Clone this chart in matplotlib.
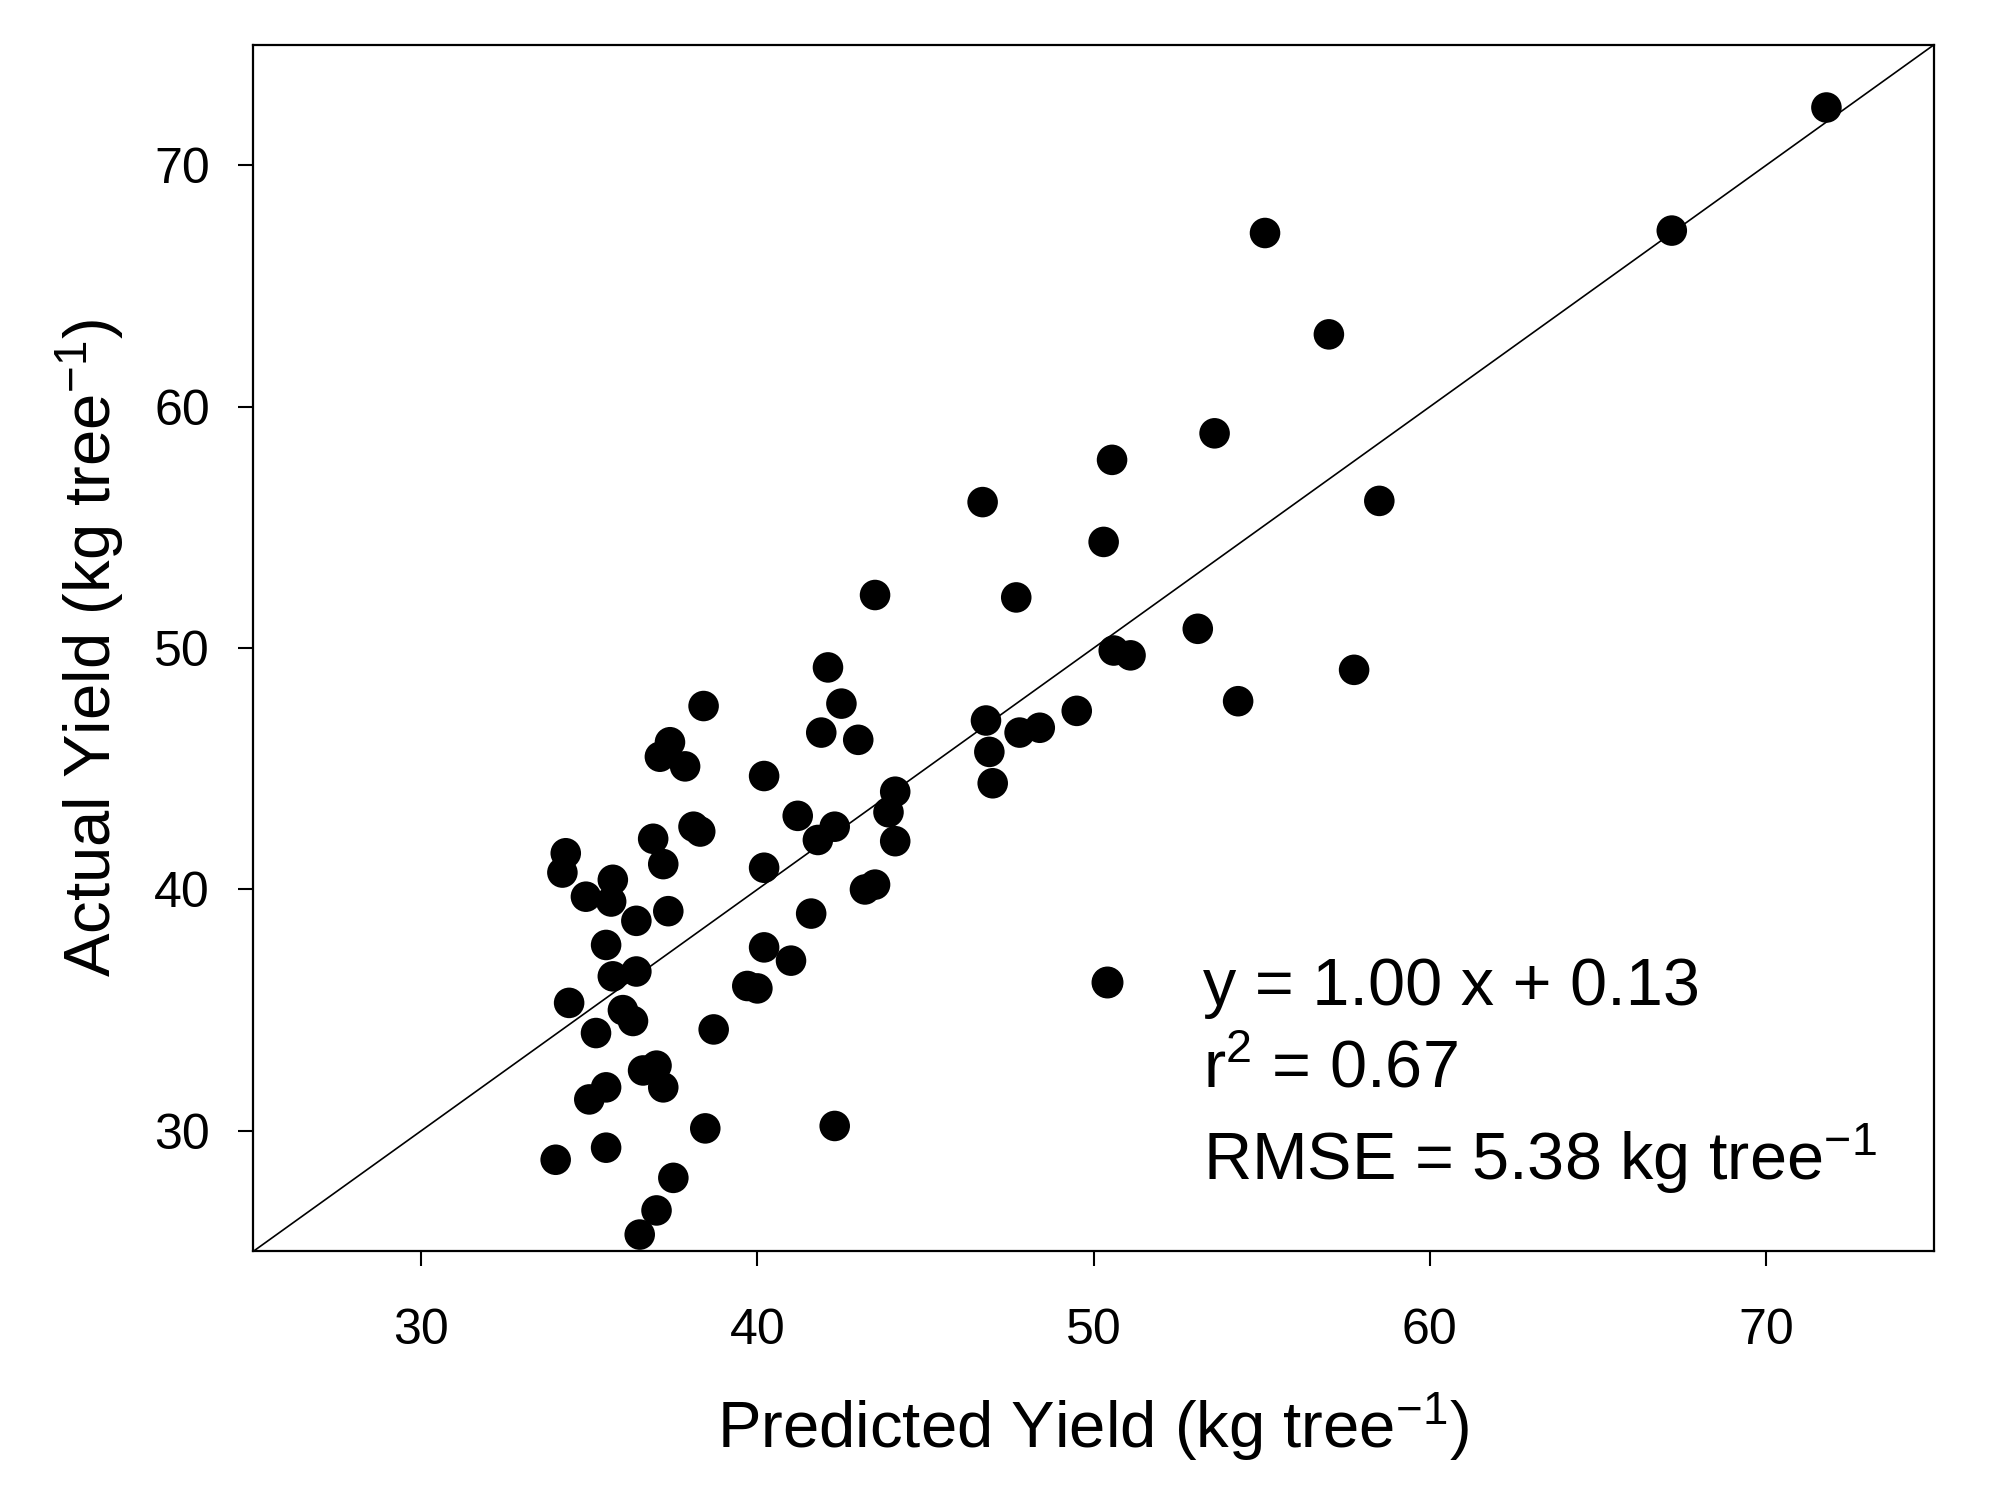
import matplotlib
matplotlib.use("Agg")
import matplotlib.pyplot as plt
from matplotlib.lines import Line2D

plt.rcParams['font.family'] = ['Liberation Sans', 'DejaVu Sans']
plt.rcParams['mathtext.fontset'] = 'custom'
plt.rcParams['mathtext.rm'] = 'Liberation Sans'
plt.rcParams['mathtext.it'] = 'Liberation Sans'
plt.rcParams['mathtext.default'] = 'regular'

predicted = [71.8, 67.2, 55.1, 57.0, 53.6, 50.55, 46.7, 58.5, 50.3, 43.5,
             47.7, 53.1, 50.6, 51.1, 57.75, 42.1, 38.4, 42.5, 54.3, 49.5,
             46.8, 41.9, 43.0, 37.4, 47.8, 48.4, 37.1, 37.85, 46.9, 40.2,
             47.0, 44.1, 41.2, 43.9, 38.1, 38.3, 42.3, 41.8, 44.1, 36.9,
             34.3, 34.2, 40.2, 37.2, 35.7, 34.9, 35.65, 43.2, 43.5, 37.35,
             41.6, 36.4, 35.5, 40.2, 41.0, 36.4, 35.7, 39.7, 40.0, 34.4,
             36.0, 36.3, 38.7, 35.2, 36.6, 37.0, 37.2, 35.5, 35.0, 38.45,
             42.3, 35.5, 34.0, 37.5, 37.0, 36.5]
actual = [72.4, 67.3, 67.2, 63.0, 58.9, 57.8, 56.05, 56.1, 54.4, 52.2,
          52.1, 50.8, 49.9, 49.7, 49.1, 49.2, 47.6, 47.7, 47.8, 47.4,
          47.0, 46.5, 46.2, 46.1, 46.5, 46.7, 45.5, 45.1, 45.7, 44.7,
          44.4, 44.05, 43.05, 43.2, 42.6, 42.4, 42.6, 42.05, 42.0, 42.1,
          41.5, 40.7, 40.9, 41.05, 40.4, 39.7, 39.5, 40.0, 40.2, 39.1,
          39.0, 38.7, 37.7, 37.6, 37.05, 36.6, 36.4, 36.0, 35.9, 35.3,
          35.0, 34.55, 34.2, 34.05, 32.5, 32.7, 31.8, 31.8, 31.3, 30.1,
          30.2, 29.3, 28.8, 28.05, 26.7, 25.7]

ticks = [30, 40, 50, 60, 70]
lims = [25, 75]
legend_lines = ["y = 1.00 x + 0.13", "r$^{2}$ = 0.67",
                "RMSE = 5.38 kg tree$^{-1}$"]

fig = plt.figure(figsize=(19.93, 15.02), dpi=100)
ax = fig.add_axes([0.127, 0.1668, 0.8434, 0.8034])

ax.scatter(predicted, actual, s=22**2, c='black', edgecolors='none', zorder=3)
ax.plot(lims, lims, color='black', lw=1.2, zorder=2)

ax.set_xlim(lims)
ax.set_ylim(lims)
ax.set_xticks(ticks)
ax.set_yticks(ticks)
ax.tick_params(direction='out', length=11, width=1.5, labelsize=36)
ax.tick_params(axis='x', pad=30)
ax.tick_params(axis='y', pad=20)
for s in ax.spines.values():
    s.set_linewidth(1.6)

ax.set_xlabel("Predicted Yield (kg tree$^{-1}$)", fontsize=47, labelpad=26)
ax.set_ylabel("Actual Yield (kg tree$^{-1}$)", fontsize=47, labelpad=20)

handles = [Line2D([], [], marker='o', ls='none', color='black', markersize=22),
           Line2D([], [], ls='none'), Line2D([], [], ls='none')]
ax.legend(handles, legend_lines, loc='lower right', bbox_to_anchor=(0.99, 0.013),
          frameon=False, fontsize=48, labelspacing=0.3, handletextpad=0.85,
          handlelength=1.2, borderaxespad=0.2)

fig.savefig("out.png", dpi=100)
